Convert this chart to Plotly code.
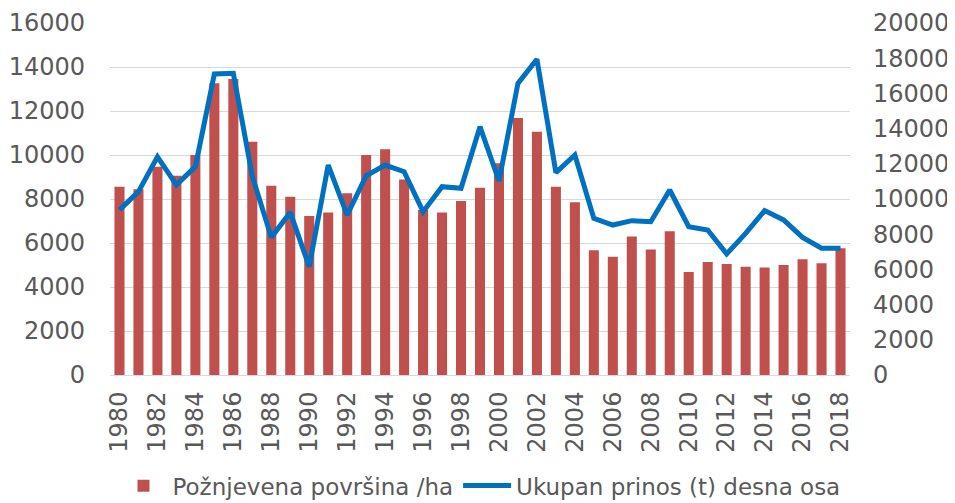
import plotly.graph_objects as go

years = list(range(1980, 2019))
area_ha = [8560, 8440, 9470, 9060, 10000, 13260, 13450, 10600, 8600, 8100,
           7230, 7390, 8260, 10000, 10260, 8890, 7500, 7390, 7910, 8510,
           9620, 11680, 11060, 8560, 7850, 5670, 5380, 6290, 5710, 6530,
           4680, 5140, 5050, 4920, 4890, 5000, 5260, 5080, 5760]
yield_t = [9380, 10420, 12400, 10800, 11840, 17100, 17140, 11300, 7820, 9240,
           6150, 11930, 9090, 11320, 11930, 11550, 9280, 10700, 10610, 14110,
           11020, 16570, 17940, 11500, 12500, 8900, 8520, 8770, 8710, 10510,
           8430, 8240, 6880, 8050, 9340, 8810, 7820, 7200, 7200]
tick_years = list(range(1980, 2019, 2))

font = dict(family="DejaVu Sans, Verdana, sans-serif", size=24, color="#595959")

fig = go.Figure()
fig.add_trace(go.Bar(x=years, y=area_ha, name="Požnjevena površina /ha",
                     marker=dict(color="#C0504D", line=dict(width=0))))
fig.add_trace(go.Scatter(x=years, y=yield_t, name="Ukupan prinos (t) desna osa",
                         mode="lines", yaxis="y2",
                         line=dict(color="#0070C0", width=5)))

fig.update_layout(
    width=947, height=495,
    margin=dict(l=102, r=105, t=15, b=128, autoexpand=False),
    plot_bgcolor="white", paper_bgcolor="white",
    font=font,
    bargap=0.47,
    showlegend=True,
    legend=dict(orientation="h", x=0.5, xanchor="center",
                yref="container", y=0.035, yanchor="middle",
                bgcolor="rgba(0,0,0,0)",
                font=dict(family=font["family"], size=23, color="#595959"),
                itemwidth=48, traceorder="normal"),
    xaxis=dict(range=[1979.5, 2018.5], tickvals=tick_years,
               ticktext=[str(y) for y in tick_years], tickangle=-90,
               showgrid=False, showline=True, linecolor="#D9D9D9", linewidth=1,
               ticks="", ticklabelstandoff=6, zeroline=False, automargin=False),
    yaxis=dict(range=[0, 16000], dtick=2000, tickformat="d", showgrid=True,
               gridcolor="#D9D9D9", gridwidth=1, zeroline=False, ticks="",
               ticklabelstandoff=24, showline=False, automargin=False),
    yaxis2=dict(range=[0, 20000], dtick=2000, tickformat="d", overlaying="y",
                side="right", showgrid=False, zeroline=False, ticks="",
                ticklabelstandoff=22, showline=False, automargin=False),
)

fig.write_html("out.html")
